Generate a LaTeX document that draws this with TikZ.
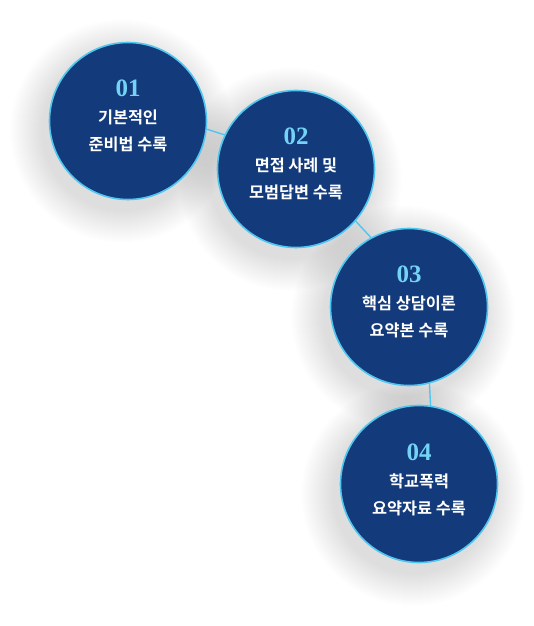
\documentclass[tikz,border=0pt]{standalone}
\usepackage{fontspec}
\newfontfamily\kr{Noto Sans CJK KR}[BoldFont={* Bold}]
\newfontfamily\numf{Liberation Serif}
\definecolor{navy}{HTML}{133A7A}
\definecolor{sky}{HTML}{4FC6F0}
\definecolor{numc}{HTML}{74D3F4}
\tikzset{
  bubble/.style={circle, fill=navy, draw=sky, line width=1.6pt, minimum size=157pt, inner sep=0pt},
  shade layer/.style={fill=black, fill opacity=0.0055, draw=none},
  link/.style={draw=sky, line width=1.4pt},
  numtxt/.style={text=numc, font=\numf\bfseries\fontsize{25}{25}\selectfont, inner sep=0pt},
  body/.style={text=white, align=center, font=\kr\bfseries\fontsize{16.3}{27}\selectfont, inner sep=0pt}
}
\begin{document}
\begin{tikzpicture}[x=1pt,y=-1pt]
\useasboundingbox[fill=white] (0,0) rectangle (534,626);
% soft shadows
\foreach \cx/\cy in {128/121, 296/169, 409/307, 419/484}{
  \foreach \i in {0,...,32}{
    \fill[shade layer] (\cx-6,\cy+10) circle[radius=112-\i];
  }
}
% link coordinates
\coordinate (l1a) at (200,127);
\coordinate (l1b) at (228,136);
\coordinate (l2a) at (350,215);
\coordinate (l2b) at (376,243);
\coordinate (l3a) at (429,375);
\coordinate (l3b) at (431,414);
\draw[link] (l1a) -- (l1b);
\draw[link] (l2a) -- (l2b);
\draw[link] (l3a) -- (l3b);
\node[bubble] (c1) at (128,121) {};
\node[bubble] (c2) at (296,169) {};
\node[bubble] (c3) at (409,307) {};
\node[bubble] (c4) at (419,484) {};
\node[numtxt] (n1) at (128,88) {01};
\node[numtxt] (n2) at (296,136) {02};
\node[numtxt] (n3) at (409,274) {03};
\node[numtxt] (n4) at (419,452) {04};
\node[body] (t1) at (128,131) {기본적인\\준비법 수록};
\node[body] (t2) at (296,179) {면접 사례 및\\모범답변 수록};
\node[body] (t3) at (409,317) {핵심 상담이론\\요약본 수록};
\node[body] (t4) at (419,495) {학교폭력\\요약자료 수록};
\end{tikzpicture}
\end{document}
